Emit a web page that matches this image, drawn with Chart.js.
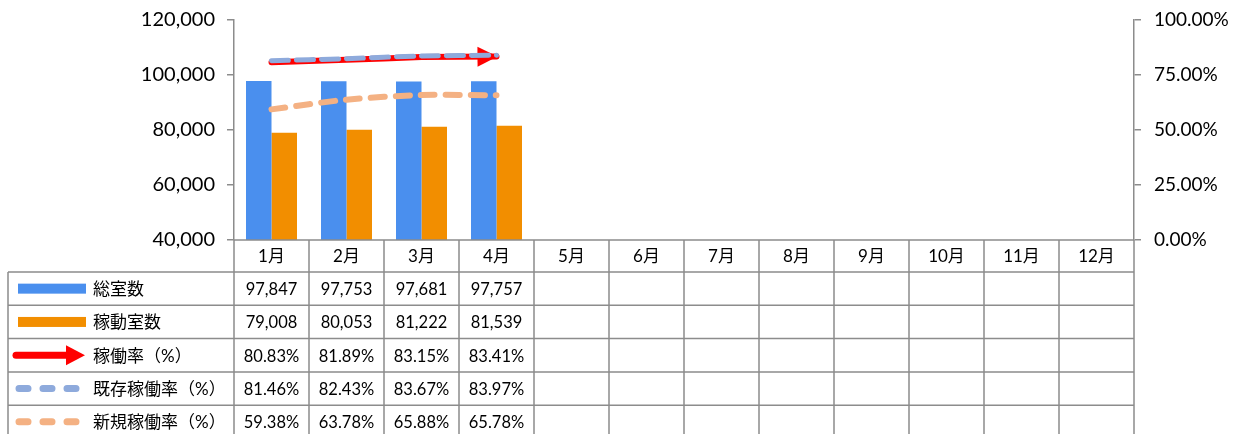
<!DOCTYPE html>
<html lang="ja">
<head>
<meta charset="utf-8">
<title>稼働率</title>
<script src="https://cdn.jsdelivr.net/npm/chart.js@4.4.1/dist/chart.umd.min.js"></script>
<style>
  html, body { margin: 0; padding: 0; background: #fff; }
  #wrap { width: 1241px; height: 434px; }
</style>
</head>
<body>
<div id="wrap"><canvas id="occChart" width="1241" height="434"></canvas></div>
<script>
// ---- data ----
const months = ["1月", "2月", "3月", "4月", "5月", "6月", "7月", "8月", "9月", "10月", "11月", "12月"];
const totalRooms = [97847, 97753, 97681, 97757];
const occupiedRooms = [79008, 80053, 81222, 81539];
const occRate = [80.83, 81.89, 83.15, 83.41];
const existingRate = [81.46, 82.43, 83.67, 83.97];
const newRate = [59.38, 63.78, 65.88, 65.78];
const roomTicks = [40000, 60000, 80000, 100000, 120000];
const rateTicks = [0, 25, 50, 75, 100];

const seriesNames = ["総室数", "稼動室数", "稼働率（%）", "既存稼働率（%）", "新規稼働率（%）"];

// ---- colours ----
const BLUE = "#4a8fee";
const ORANGE = "#f28e00";
const RED = "#ff0000";
const DASH_BLUE = "#8eaadc";
const DASH_ORANGE = "#f4b183";
const GRID = "#8c8c8c";
const FONT = "Lato, 'Noto Sans CJK JP', sans-serif";

const fmtNum = (v) => v.toLocaleString("en-US");
const fmtPct = (v) => v.toFixed(2) + "%";

// arrow head at the end of the red line
const arrowPlugin = {
  id: "arrowHead",
  afterDatasetDraw(chart, args) {
    if (chart.data.datasets[args.index].label !== seriesNames[2]) return;
    const pts = args.meta.data;
    if (pts.length < 2) return;
    const p = pts[pts.length - 1];
    const q = pts[pts.length - 2];
    const a = Math.atan2(p.y - q.y, p.x - q.x);
    const { ctx } = chart;
    ctx.save();
    ctx.translate(p.x + 1, p.y);
    ctx.rotate(a);
    ctx.beginPath();
    ctx.moveTo(0, 0);
    ctx.lineTo(-20, -10);
    ctx.lineTo(-20, 10);
    ctx.closePath();
    ctx.fillStyle = RED;
    ctx.fill();
    ctx.restore();
  },
};

// data table under the plot
const tablePlugin = {
  id: "dataTable",
  afterDraw(chart) {
    const { ctx, chartArea } = chart;
    const xs = chart.scales.x;
    const colW = (chartArea.right - chartArea.left) / months.length;
    const top = chartArea.bottom;
    const headH = 32;
    const rowH = 33.3;
    const legendLeft = 8;
    const bottom = chart.height + 10;

    const rows = [
      { values: totalRooms, fmt: fmtNum, sym: "barBlue" },
      { values: occupiedRooms, fmt: fmtNum, sym: "barOrange" },
      { values: occRate, fmt: fmtPct, sym: "arrow" },
      { values: existingRate, fmt: fmtPct, sym: "dashBlue" },
      { values: newRate, fmt: fmtPct, sym: "dashOrange" },
    ];

    ctx.save();
    ctx.strokeStyle = GRID;
    ctx.lineWidth = 1.5;

    // horizontal lines
    ctx.beginPath();
    ctx.moveTo(chartArea.left, top);
    ctx.lineTo(chartArea.right, top);
    for (let r = 0; r <= rows.length; r++) {
      const y = top + headH + r * rowH;
      ctx.moveTo(legendLeft, y);
      ctx.lineTo(chartArea.right, y);
    }
    // vertical lines
    for (let i = 0; i <= months.length; i++) {
      const x = chartArea.left + i * colW;
      ctx.moveTo(x, top);
      ctx.lineTo(x, bottom);
    }
    ctx.moveTo(legendLeft, top + headH);
    ctx.lineTo(legendLeft, bottom);
    ctx.stroke();

    ctx.fillStyle = "#000";
    ctx.textAlign = "center";
    ctx.textBaseline = "middle";

    // month header
    ctx.font = "17px " + FONT;
    months.forEach((m, i) => {
      ctx.fillText(m, xs.getPixelForValue(i), top + headH / 2 + 1);
    });

    // rows
    rows.forEach((row, r) => {
      const cy = top + headH + r * rowH + rowH / 2 + 1;
      ctx.textAlign = "center";
      ctx.font = "16.5px " + FONT;
      ctx.fillStyle = "#000";
      months.forEach((m, i) => {
        const v = row.values[i];
        if (v == null) return;
        ctx.fillText(row.fmt(v), xs.getPixelForValue(i), cy);
      });

      // legend key
      const sx = 18, ex = 86;
      const ky = cy - 1;
      ctx.save();
      if (row.sym === "barBlue" || row.sym === "barOrange") {
        ctx.fillStyle = row.sym === "barBlue" ? BLUE : ORANGE;
        ctx.fillRect(sx, ky - 5, ex - sx, 10);
      } else if (row.sym === "arrow") {
        ctx.strokeStyle = RED;
        ctx.lineWidth = 7;
        ctx.lineCap = "round";
        ctx.beginPath();
        ctx.moveTo(sx - 2, ky);
        ctx.lineTo(70, ky);
        ctx.stroke();
        ctx.fillStyle = RED;
        ctx.beginPath();
        ctx.moveTo(85, ky);
        ctx.lineTo(66, ky - 10);
        ctx.lineTo(66, ky + 10);
        ctx.closePath();
        ctx.fill();
      } else {
        ctx.strokeStyle = row.sym === "dashBlue" ? DASH_BLUE : DASH_ORANGE;
        ctx.lineWidth = 7;
        ctx.lineCap = "round";
        ctx.setLineDash([9, 15]);
        ctx.beginPath();
        ctx.moveTo(sx + 1, ky);
        ctx.lineTo(80, ky);
        ctx.stroke();
      }
      ctx.restore();

      ctx.textAlign = "left";
      ctx.font = "17px " + FONT;
      ctx.fillStyle = "#000";
      ctx.fillText(seriesNames[r], 93, cy);
    });
    ctx.restore();
  },
};

const canvas = document.getElementById("occChart");

// fixed axis widths, no extra label padding so the plot spans 20..240
const fitLeft = (s) => { s.width = 234; s.paddingTop = 0; s.paddingBottom = 0; };
const fitRight = (s) => { s.width = 107; s.paddingTop = 0; s.paddingBottom = 0; };

new Chart(canvas, {
  data: {
    labels: months,
    datasets: [
      {
        type: "line",
        label: seriesNames[3],
        data: existingRate,
        yAxisID: "y1",
        borderColor: DASH_BLUE,
        borderWidth: 5,
        borderDash: [17, 8],
        borderCapStyle: "round",
        pointRadius: 0,
        tension: 0.15,
        order: 0,
      },
      {
        type: "line",
        label: seriesNames[4],
        data: newRate,
        yAxisID: "y1",
        borderColor: DASH_ORANGE,
        borderWidth: 6,
        borderDash: [14, 11],
        borderCapStyle: "round",
        pointRadius: 0,
        tension: 0.3,
        order: 1,
      },
      {
        type: "line",
        label: seriesNames[2],
        data: occRate,
        yAxisID: "y1",
        borderColor: RED,
        borderWidth: 6,
        borderCapStyle: "round",
        pointRadius: 0,
        tension: 0.15,
        order: 2,
      },
      {
        type: "bar",
        label: seriesNames[0],
        data: totalRooms,
        yAxisID: "y",
        backgroundColor: BLUE,
        categoryPercentage: 0.68,
        barPercentage: 1,
        order: 3,
      },
      {
        type: "bar",
        label: seriesNames[1],
        data: occupiedRooms,
        yAxisID: "y",
        backgroundColor: ORANGE,
        categoryPercentage: 0.68,
        barPercentage: 1,
        order: 4,
      },
    ],
  },
  options: {
    responsive: false,
    animation: false,
    layout: { padding: { top: 20, bottom: 194, left: 0, right: 0 } },
    scales: {
      x: { display: false },
      y: {
        position: "left",
        min: roomTicks[0],
        max: roomTicks[roomTicks.length - 1],
        ticks: {
          stepSize: roomTicks[1] - roomTicks[0],
          padding: 12,
          color: "#000",
          font: { family: FONT, size: 20 },
          callback: (v) => fmtNum(v),
        },
        grid: { drawOnChartArea: false, drawTicks: true, tickLength: 7, color: GRID, lineWidth: 1.5 },
        border: { color: GRID, width: 1.5 },
        afterFit: fitLeft,
      },
      y1: {
        position: "right",
        min: rateTicks[0],
        max: rateTicks[rateTicks.length - 1],
        ticks: {
          stepSize: rateTicks[1] - rateTicks[0],
          padding: 13,
          color: "#000",
          font: { family: FONT, size: 19 },
          callback: (v) => fmtPct(v),
        },
        grid: { drawOnChartArea: false, drawTicks: true, tickLength: 7, color: GRID, lineWidth: 1.5 },
        border: { color: GRID, width: 1.5 },
        afterFit: fitRight,
      },
    },
    plugins: {
      legend: { display: false },
      tooltip: { enabled: false },
    },
  },
  plugins: [arrowPlugin, tablePlugin],
});
</script>
</body>
</html>
